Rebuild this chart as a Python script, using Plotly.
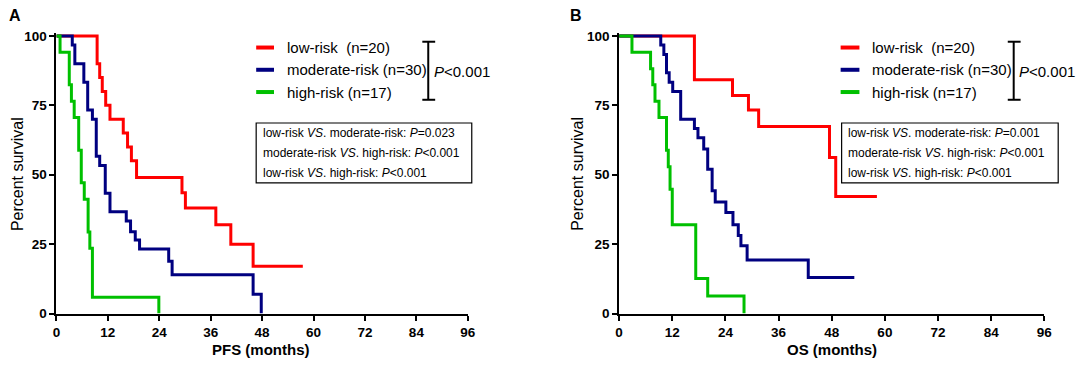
import plotly.graph_objects as go

# ---------------- data ----------------
# Panel A: PFS
pfs_low_t = [0, 9.5, 10.1, 10.7, 11.5, 12.5, 15.6, 16.6, 17.5, 18.7, 29.3, 30.1, 37.2, 40.7, 45.9, 57.5]
pfs_low_s = [100, 90, 85, 80, 75, 70, 65, 60, 55, 49, 43.5, 38, 32, 25, 17, 17]
pfs_mod_t = [0, 3.7, 4.3, 6.4, 7.3, 8.4, 9.3, 10.1, 11.4, 12.5, 16.3, 17.3, 18.4, 19.4, 26.2, 27.0, 45.9, 47.8]
pfs_mod_s = [100, 96.7, 90, 83.3, 73.3, 70, 56.7, 53.3, 43.3, 36.7, 33.3, 29.5, 26.5, 23.3, 18.8, 14, 7, 0]
pfs_high_t = [0, 0.85, 3.0, 3.5, 4.15, 5.2, 5.8, 6.5, 7.4, 7.8, 8.4, 23.9]
pfs_high_s = [100, 94.1, 82.4, 76.5, 70.6, 58.8, 47.1, 41.2, 29.4, 23.5, 5.9, 0]

# Panel B: OS
os_low_t = [0, 17.0, 25.6, 29.2, 31.5, 47.5, 48.9, 58.2]
os_low_s = [100, 84.2, 78.5, 73.3, 67.4, 56.2, 42.2, 42.2]
os_mod_t = [0, 9.4, 10.1, 10.7, 11.3, 12.1, 13.9, 17.0, 17.8, 19.1, 20.0, 21.0, 21.7, 24.1, 25.7, 26.9, 27.5, 28.9, 42.7, 53.1]
os_mod_s = [100, 96.7, 93.3, 86.7, 83.3, 80, 70, 66.7, 63.3, 59.3, 52.0, 44.2, 40.2, 36.4, 32.0, 28.1, 24.4, 19.3, 13.0, 13.0]
os_high_t = [0, 2.9, 7.1, 7.6, 8.1, 9.0, 10.7, 11.1, 11.5, 12.0, 17.3, 20.0, 28.2]
os_high_s = [100, 94.1, 88.2, 82.4, 76.5, 70.6, 58.8, 52.9, 44.8, 32.0, 12.6, 6.3, 0]

group_labels = ["low-risk\u00a0 (n=20)", "moderate-risk (n=30)", "high-risk (n=17)"]
group_colors = ["#ff0000", "#000080", "#00c000"]
overall_p = "<i>P</i><0.001"
pair_text_A = ["low-risk <i>VS</i>. moderate-risk: <i>P</i>=0.023",
               "moderate-risk <i>VS</i>. high-risk: <i>P</i><0.001",
               "low-risk <i>VS</i>. high-risk: <i>P</i><0.001"]
pair_text_B = ["low-risk <i>VS</i>. moderate-risk: <i>P</i>=0.001",
               "moderate-risk <i>VS</i>. high-risk: <i>P</i><0.001",
               "low-risk <i>VS</i>. high-risk: <i>P</i><0.001"]
x_ticks = list(range(0, 97, 12))
y_ticks = [0, 25, 50, 75, 100]

# ---------------- layout helpers ----------------
W, H = 1084, 368
FONT = "Liberation Sans, Arial, sans-serif"


def px(x):
    return x / W


def py(y):
    return 1 - y / H


fig = go.Figure()

panels = [
    dict(xa="x", ya="y", series=[(pfs_low_t, pfs_low_s), (pfs_mod_t, pfs_mod_s), (pfs_high_t, pfs_high_s)]),
    dict(xa="x2", ya="y2", series=[(os_low_t, os_low_s), (os_mod_t, os_mod_s), (os_high_t, os_high_s)]),
]
for p in panels:
    for (t, s), c, name in zip(p["series"], group_colors, group_labels):
        fig.add_trace(go.Scatter(x=t, y=s, mode="lines", line=dict(color=c, width=3, shape="hv"),
                                 name=name, xaxis=p["xa"], yaxis=p["ya"], showlegend=False,
                                 hoverinfo="skip"))

# plot areas (pixels): A x 53-469, B x 622-1052; y 0 at 320, 100 at 33
y_top_px = 33 - 1.0 * (320 - 33) / 100  # range to 101
axis_common = dict(showline=True, linecolor="black", linewidth=2, ticks="outside", ticklen=5,
                   tickwidth=2, tickcolor="black", showgrid=False, zeroline=False,
                   tickfont=dict(family=FONT, size=13.5, color="black", weight="bold"))
fig.update_layout(
    width=W, height=H, margin=dict(l=0, r=0, t=0, b=0),
    paper_bgcolor="white", plot_bgcolor="white",
    xaxis=dict(domain=[px(53), px(469)], range=[0, 96], tickvals=x_ticks, anchor="y", **axis_common),
    yaxis=dict(domain=[py(320), py(y_top_px)], range=[0, 101], tickvals=y_ticks, anchor="x", **axis_common),
    xaxis2=dict(domain=[px(622), px(1052)], range=[0, 96], tickvals=x_ticks, anchor="y2", **axis_common),
    yaxis2=dict(domain=[py(320), py(y_top_px)], range=[0, 101], tickvals=y_ticks, anchor="x2", **axis_common),
)

ann = []
shapes = []


def text(x, y, s, size, xanchor="left", bold=False, angle=0):
    ann.append(dict(x=px(x), y=py(y), xref="paper", yref="paper", text=s, showarrow=False,
                    xanchor=xanchor, yanchor="middle", textangle=angle, borderpad=0,
                    font=dict(family=FONT, size=size, color="black", weight="bold" if bold else "normal")))


def line(x0, y0, x1, y1, color="black", width=2):
    shapes.append(dict(type="line", xref="paper", yref="paper", x0=px(x0), y0=py(y0), x1=px(x1), y1=py(y1),
                       line=dict(color=color, width=width)))


# panel letters
text(4, 12, "A", 16, bold=True)
text(571, 12, "B", 16, bold=True)
# axis titles
text(13, 176, "Percent survival", 16, xanchor="center", angle=-90)
text(580, 176, "Percent survival", 16, xanchor="center", angle=-90)
text(260, 357, "PFS (months)", 15, xanchor="center", bold=True)
text(837, 357, "OS (months)", 15, xanchor="center", bold=True)

legend_pos = [dict(lx0=255, lx1=273, tx=285, bx=429, px_=434, box=(255, 473), btx=261, pairs=pair_text_A),
              dict(lx0=846, lx1=865, tx=877, bx=1021, px_=1025, box=(847, 1066), btx=852, pairs=pair_text_B)]
rows = [45, 68, 91]
for L in legend_pos:
    for ry, lab, c in zip(rows, group_labels, group_colors):
        line(L["lx0"], ry, L["lx1"], ry, color=c, width=4)
        text(L["tx"], ry, lab, 15)
    line(L["bx"], 39, L["bx"], 99)
    line(L["bx"] - 6, 39, L["bx"] + 7, 39)
    line(L["bx"] - 6, 99, L["bx"] + 7, 99)
    text(L["px_"], 70, overall_p, 15)
    x0, x1 = L["box"]
    shapes.append(dict(type="rect", xref="paper", yref="paper", x0=px(x0), x1=px(x1), y0=py(185), y1=py(123),
                       line=dict(color="black", width=1.2), fillcolor="rgba(0,0,0,0)"))
    for ry, s in zip([133, 154, 175], L["pairs"]):
        text(L["btx"], ry, s, 12)

fig.update_layout(annotations=ann, shapes=shapes)
fig.write_html(
    "out.html",
    config={"displayModeBar": False, "staticPlot": True},
    post_script="document.documentElement.style.margin='0';document.body.style.margin='0';"
                "document.body.style.overflow='hidden';",
)
